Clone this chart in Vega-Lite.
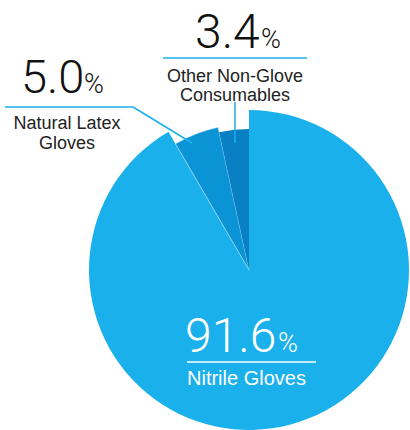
{
  "$schema": "https://vega.github.io/schema/vega-lite/v6.json",
  "width": 322,
  "height": 320,
  "autosize": "none",
  "padding": {"left": 88, "top": 110, "right": 0, "bottom": 0},
  "background": "white",
  "config": {"view": {"stroke": null}},
  "data": {
    "values": [
      {"category": "Nitrile Gloves", "value": 91.6, "rank": 1},
      {"category": "Natural Latex Gloves", "value": 5.0, "rank": 2},
      {"category": "Other Non-Glove Consumables", "value": 3.4, "rank": 3}
    ]
  },
  "transform": [
    {"stack": "value", "groupby": [], "sort": [{"field": "rank", "order": "ascending"}], "as": ["v0", "v1"]}
  ],
  "layer": [
    {
      "transform": [{"filter": "datum.category == 'Nitrile Gloves'"}],
      "mark": {"type": "arc", "radius": 160, "color": "#1AB0EC"},
      "encoding": {
        "theta": {"field": "v0", "type": "quantitative", "scale": {"domain": [0, 100]}},
        "theta2": {"field": "v1"}
      }
    },
    {
      "transform": [{"filter": "datum.category == 'Natural Latex Gloves'"}],
      "mark": {"type": "arc", "radius": 146, "color": "#0A94D6", "stroke": "#dff0f8", "strokeWidth": 0.5},
      "encoding": {
        "theta": {"field": "v0", "type": "quantitative", "scale": {"domain": [0, 100]}},
        "theta2": {"field": "v1"}
      }
    },
    {
      "transform": [{"filter": "datum.category == 'Other Non-Glove Consumables'"}],
      "mark": {"type": "arc", "radius": 141, "color": "#0880C3"},
      "encoding": {
        "theta": {"field": "v0", "type": "quantitative", "scale": {"domain": [0, 100]}},
        "theta2": {"field": "v1"}
      }
    },
    {
      "transform": [{"filter": "datum.category == 'Nitrile Gloves'"}],
      "layer": [
        {"mark": {"type": "text", "align": "left", "baseline": "alphabetic", "font": "Roboto", "fontWeight": 300, "fontSize": 48, "color": "white"},
         "encoding": {"x": {"value": 97}, "y": {"value": 242}, "text": {"field": "value", "type": "quantitative", "format": ".1f"}}},
        {"mark": {"type": "text", "align": "left", "baseline": "alphabetic", "font": "Roboto", "fontWeight": 300, "fontSize": 27, "color": "white", "text": "%"},
         "encoding": {"x": {"value": 190}, "y": {"value": 242}}},
        {"mark": {"type": "rule", "color": "white", "strokeWidth": 1.5},
         "encoding": {"x": {"value": 99}, "x2": {"value": 228}, "y": {"value": 252}, "y2": {"value": 252}}},
        {"mark": {"type": "text", "align": "left", "baseline": "alphabetic", "font": "Liberation Sans", "fontSize": 20, "color": "white"},
         "encoding": {"x": {"value": 99}, "y": {"value": 275}, "text": {"field": "category"}}}
      ]
    },
    {
      "transform": [{"filter": "datum.category == 'Natural Latex Gloves'"}],
      "layer": [
        {"mark": {"type": "text", "align": "left", "baseline": "alphabetic", "font": "Roboto", "fontWeight": 300, "fontSize": 47, "color": "#111"},
         "encoding": {"x": {"value": -67}, "y": {"value": -17}, "text": {"field": "value", "type": "quantitative", "format": ".1f"}}},
        {"mark": {"type": "text", "align": "left", "baseline": "alphabetic", "font": "Roboto", "fontWeight": 300, "fontSize": 27, "color": "#111", "text": "%"},
         "encoding": {"x": {"value": -4}, "y": {"value": -17}}},
        {"mark": {"type": "rule", "color": "#1AB0EC", "strokeWidth": 1.5},
         "encoding": {"x": {"value": -83}, "x2": {"value": 45}, "y": {"value": -3}, "y2": {"value": -3}}},
        {"mark": {"type": "rule", "color": "#1AB0EC", "strokeWidth": 1.5},
         "encoding": {"x": {"value": 45}, "x2": {"value": 104}, "y": {"value": -3}, "y2": {"value": 33}}},
        {"mark": {"type": "text", "align": "center", "baseline": "alphabetic", "font": "Liberation Sans", "fontSize": 18, "lineHeight": 20, "color": "#222", "text": ["Natural Latex", "Gloves"]},
         "encoding": {"x": {"value": -21}, "y": {"value": 19}}}
      ]
    },
    {
      "transform": [{"filter": "datum.category == 'Other Non-Glove Consumables'"}],
      "layer": [
        {"mark": {"type": "text", "align": "left", "baseline": "alphabetic", "font": "Roboto", "fontWeight": 300, "fontSize": 48, "color": "#111"},
         "encoding": {"x": {"value": 107}, "y": {"value": -62}, "text": {"field": "value", "type": "quantitative", "format": ".1f"}}},
        {"mark": {"type": "text", "align": "left", "baseline": "alphabetic", "font": "Roboto", "fontWeight": 300, "fontSize": 27, "color": "#111", "text": "%"},
         "encoding": {"x": {"value": 173}, "y": {"value": -62}}},
        {"mark": {"type": "rule", "color": "#1AB0EC", "strokeWidth": 1.5},
         "encoding": {"x": {"value": 75}, "x2": {"value": 219}, "y": {"value": -52}, "y2": {"value": -52}}},
        {"mark": {"type": "rule", "color": "#1AB0EC", "strokeWidth": 1.5},
         "encoding": {"x": {"value": 147}, "x2": {"value": 147}, "y": {"value": -8}, "y2": {"value": 33}}},
        {"mark": {"type": "text", "align": "center", "baseline": "alphabetic", "font": "Liberation Sans", "fontSize": 18, "lineHeight": 19, "color": "#222", "text": ["Other Non-Glove", "Consumables"]},
         "encoding": {"x": {"value": 147}, "y": {"value": -28}}}
      ]
    }
  ]
}
